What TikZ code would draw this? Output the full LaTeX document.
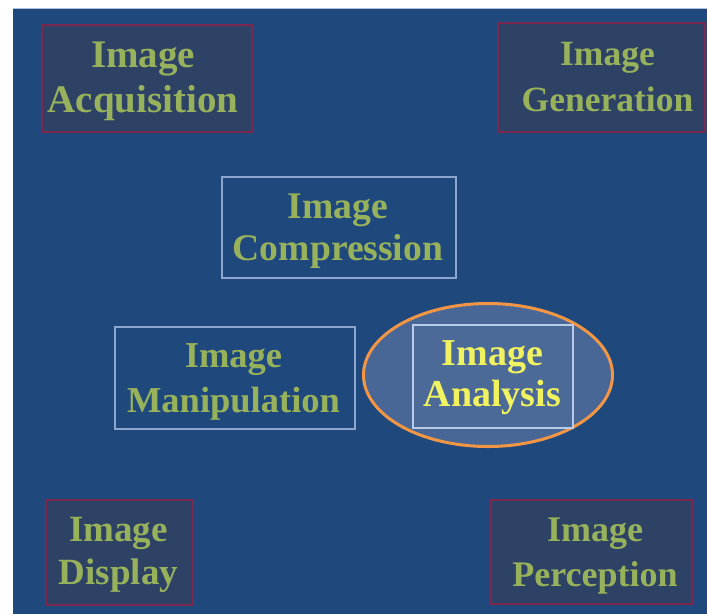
\documentclass[tikz,border=0pt]{standalone}
\usepackage{fontspec}
\setmainfont{Liberation Serif}
\usetikzlibrary{shapes.geometric}
\definecolor{bgblue}{RGB}{31,73,125}
\definecolor{darkfill}{RGB}{46,66,102}
\definecolor{crimson}{RGB}{122,40,80}
\definecolor{txtgreen}{RGB}{152,178,92}
\definecolor{paleline}{RGB}{140,166,208}
\definecolor{hifill}{RGB}{76,106,152}
\definecolor{hiline}{RGB}{184,204,234}
\definecolor{hitext}{RGB}{240,242,96}
\definecolor{orng}{RGB}{242,150,70}
\tikzset{
  lbl/.style n args={2}{align=center, inner sep=0pt, text=txtgreen,
    font=\fontsize{#1}{#2}\selectfont\bfseries},
  outerbox/.style={inner sep=0pt, draw=crimson, line width=2.6pt, fill=darkfill},
  innerbox/.style={inner sep=0pt, draw=paleline, line width=1.6pt},
  hibox/.style={inner sep=0pt, draw=hiline, line width=2.4pt, fill=hifill},
  ring/.style={ellipse, draw=orng, line width=3pt, fill=hifill!92!bgblue, inner sep=0pt}
}
\begin{document}
\begin{tikzpicture}[x=1pt,y=-1pt]
\useasboundingbox (0,0) rectangle (707,614);
\fill[white] (0,0) rectangle (707,614);
\fill[bgblue] (13,8) rectangle (707,614);
\draw[paleline!70, line width=0.8pt] (13,8) -- (707,8);
\node[outerbox, minimum width=210pt, minimum height=107pt] (acq) at (147,78.5) {};
\node[lbl={39}{45}] (acqT) at (143,81.2) {Image\\Acquisition};
\node[outerbox, minimum width=207pt, minimum height=109pt] (gen) at (601.5,77.5) {};
\node[lbl={35.5}{46}] (genT) at (607.5,76.7) {Image\\Generation};
\node[innerbox, minimum width=234pt, minimum height=101pt] (comp) at (339,227.5) {};
\node[lbl={37.6}{42}] (compT) at (338,231.2) {Image\\Compression};
\node[innerbox, minimum width=240pt, minimum height=102pt] (manip) at (235,378) {};
\node[lbl={36.5}{44.5}] (manipT) at (233.5,381.7) {Image\\Manipulation};
\node[ring, minimum width=249pt, minimum height=143pt] (ring) at (488,375) {};
\node[hibox, minimum width=160pt, minimum height=103pt] (anal) at (493,376.5) {};
\node[lbl={38}{41}, text=hitext] (analT) at (492.5,378) {Image\\Analysis};
\node[outerbox, minimum width=147pt, minimum height=105pt] (disp) at (119.5,552.5) {};
\node[lbl={37}{43.5}] (dispT) at (118.5,554.8) {Image\\Display};
\node[outerbox, minimum width=201pt, minimum height=104pt] (perc) at (591.5,552) {};
\node[lbl={36}{45}] (percT) at (595,555.7) {Image\\Perception};
\end{tikzpicture}
\end{document}
